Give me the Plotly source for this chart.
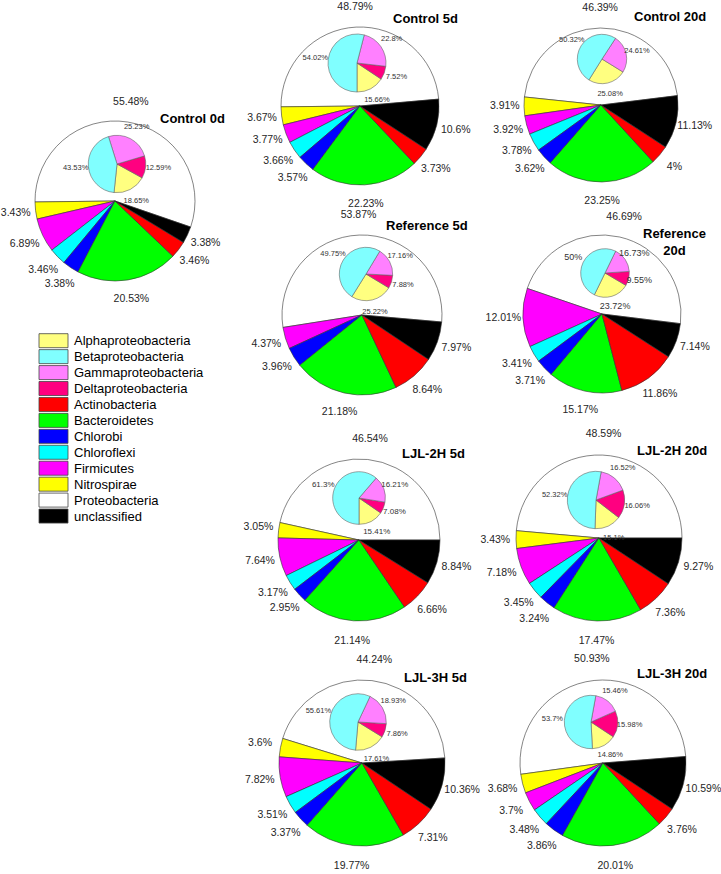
import plotly.graph_objects as go

# ---------------- data ----------------
samples = ["Control 0d", "Control 5d", "Control 20d", "Reference 5d", "Reference 20d",
           "LJL-2H 5d", "LJL-2H 20d", "LJL-3H 5d", "LJL-3H 20d"]
titles = ["Control 0d", "Control 5d", "Control 20d", "Reference 5d", "Reference<br>20d",
          "LJL-2H 5d", "LJL-2H 20d", "LJL-3H 5d", "LJL-3H 20d"]

outer_cats = ["Proteobacteria", "Nitrospirae", "Firmicutes", "Chloroflexi", "Chlorobi",
              "Bacteroidetes", "Actinobacteria", "unclassified"]
proteobacteria = [55.48, 48.79, 46.39, 53.87, 46.69, 46.54, 48.59, 44.24, 50.93]
nitrospirae    = [3.43, 3.67, 3.91, 0, 0, 3.05, 3.43, 3.6, 3.68]
firmicutes     = [6.89, 3.77, 3.92, 4.37, 12.01, 7.64, 7.18, 7.82, 3.7]
chloroflexi    = [3.46, 3.66, 3.78, 0, 3.41, 3.17, 3.45, 3.51, 3.48]
chlorobi       = [3.38, 3.57, 3.62, 3.96, 3.71, 2.95, 3.24, 3.37, 3.86]
bacteroidetes  = [20.53, 22.23, 23.25, 21.18, 15.17, 21.14, 17.47, 19.77, 20.01]
actinobacteria = [3.46, 3.73, 4, 8.64, 11.86, 6.66, 7.36, 7.31, 3.76]
unclassified   = [3.38, 10.6, 11.13, 7.97, 7.14, 8.84, 9.27, 10.36, 10.59]

inner_cats = ["Alphaproteobacteria", "Deltaproteobacteria", "Gammaproteobacteria", "Betaproteobacteria"]
alpha = [18.65, 15.66, 25.08, 25.22, 23.72, 15.41, 15.1, 17.61, 14.86]
delta = [12.59, 7.52, 0, 7.88, 9.55, 7.08, 16.06, 7.86, 15.98]
gamma = [25.23, 22.8, 24.61, 17.16, 16.73, 16.21, 16.52, 18.93, 15.46]
beta  = [43.53, 54.02, 50.32, 49.75, 50, 61.3, 52.32, 55.61, 53.7]

legend_cats = ["Alphaproteobacteria", "Betaproteobacteria", "Gammaproteobacteria",
               "Deltaproteobacteria", "Actinobacteria", "Bacteroidetes", "Chlorobi",
               "Chloroflexi", "Firmicutes", "Nitrospirae", "Proteobacteria", "unclassified"]

# ---------------- styles / layout ----------------
colors = {
    "Alphaproteobacteria": "#FFFF80", "Betaproteobacteria": "#80FFFF",
    "Gammaproteobacteria": "#FF80FF", "Deltaproteobacteria": "#FF0080",
    "Actinobacteria": "#FF0000", "Bacteroidetes": "#00FF00", "Chlorobi": "#0000FF",
    "Chloroflexi": "#00FFFF", "Firmicutes": "#FF00FF", "Nitrospirae": "#FFFF00",
    "Proteobacteria": "#FFFFFF", "unclassified": "#000000",
}
W, H = 721, 874
FONT = "Liberation Sans, Arial, sans-serif"

outer_geo = [(115, 201, 80), (360, 106, 79), (601, 105, 77), (362, 315, 80), (602, 314, 79),
             (359, 540, 81), (599, 538, 83), (362, 763, 83), (603, 763, 83)]
outer_rot = [-19, 5, 7, -5, -7, 0, 0, 3.5, 4.5]
inner_geo = [(117, 164, 28.7), (357, 63, 29), (602, 59, 24.7), (366, 274, 26.7), (605, 273, 24.3),
             (359, 498, 26.3), (596, 500, 28.7), (358, 722, 28.3), (591, 722, 26.7)]
inner_rot = [264, 270, 238, 238, 244, 270, 268, 265, 273]
inner_font = [7.5, 7.5, 7.5, 7.5, 9, 8, 7.5, 7.5, 7.5]
title_pos = [(192, 119), (426, 18), (670, 16), (427, 226), (674.5, 241.5),
             (434, 453), (672, 451), (436, 677), (672, 673)]

RO, LO = 1.28, 1.25   # outer radial range / label radius
RI, LI = 1.6, 1.45    # inset radial range / label radius


def domain(cx, cy, rpx):
    return dict(x=[(cx - rpx) / W, (cx + rpx) / W], y=[1 - (cy + rpx) / H, 1 - (cy - rpx) / H])


def wedges(vals):
    tot = sum(vals)
    mids, widths, acc = [], [], 0.0
    for v in vals:
        w = 360.0 * v / tot
        mids.append(acc + w / 2)
        widths.append(w)
        acc += w
    return mids, widths


def fmt(v):
    return f"{v:g}%"


fig = go.Figure()
layout_polars = {}
pidx = 0


def add_pie(cats, vals, geo, rot, rng, lab_r, fsize, line_col, txt_col):
    global pidx
    pidx += 1
    name = "polar" if pidx == 1 else f"polar{pidx}"
    mids, widths = wedges(vals)
    keep = [i for i, v in enumerate(vals) if v > 0]
    fig.add_trace(go.Barpolar(
        r=[1] * len(keep), theta=[mids[i] for i in keep], width=[widths[i] for i in keep],
        marker=dict(color=[colors[cats[i]] for i in keep], line=dict(color=line_col, width=0.6)),
        subplot=name, showlegend=False, hoverinfo="skip"))
    fig.add_trace(go.Scatterpolar(
        r=[lab_r] * len(keep), theta=[mids[i] for i in keep], mode="text",
        text=[fmt(vals[i]) for i in keep], textposition="middle center",
        textfont=dict(family=FONT, size=fsize, color=txt_col),
        cliponaxis=False, subplot=name, showlegend=False, hoverinfo="skip"))
    cx, cy, r = geo
    layout_polars[name] = dict(
        domain=domain(cx, cy, r * rng), bgcolor="rgba(0,0,0,0)", bargap=0,
        radialaxis=dict(visible=False, range=[0, rng]),
        angularaxis=dict(visible=False, direction="counterclockwise", rotation=rot),
    )


outer_series = [proteobacteria, nitrospirae, firmicutes, chloroflexi, chlorobi,
                bacteroidetes, actinobacteria, unclassified]
inner_series = [alpha, delta, gamma, beta]

for k in range(len(samples)):
    add_pie(outer_cats, [s[k] for s in outer_series], outer_geo[k], outer_rot[k], RO, LO, 10.5,
            "#333333", "#262626")
for k in range(len(samples)):
    add_pie(inner_cats, [s[k] for s in inner_series], inner_geo[k], inner_rot[k], RI, LI, inner_font[k],
            "#666666", "#333333")

annotations = []
for k, t in enumerate(titles):
    x, y = title_pos[k]
    annotations.append(dict(x=x / W, y=1 - y / H, xref="paper", yref="paper", text=f"<b>{t}</b>",
                            showarrow=False, xanchor="center", yanchor="middle", align="center",
                            font=dict(family=FONT, size=13, color="#000000")))

# legend (drawn as boxes + text)
shapes = []
y0, step = 340.7, 15.94
for i, c in enumerate(legend_cats):
    yc = y0 + step * i
    shapes.append(dict(type="rect", xref="paper", yref="paper",
                       x0=39 / W, x1=68 / W, y0=1 - (yc + 7) / H, y1=1 - (yc - 7) / H,
                       fillcolor=colors[c], line=dict(color="#444444", width=0.8)))
    annotations.append(dict(x=72 / W, y=1 - yc / H, xref="paper", yref="paper", text=c,
                            showarrow=False, xanchor="left", yanchor="middle",
                            font=dict(family=FONT, size=13, color="#000000")))

fig.update_layout(width=W, height=H, margin=dict(l=0, r=0, t=0, b=0),
                  paper_bgcolor="white", plot_bgcolor="white",
                  annotations=annotations, shapes=shapes, showlegend=False, **layout_polars)

fig.write_html("out.html", config={"displayModeBar": False},
               post_script="document.body.style.margin='0px';document.body.style.overflow='hidden';")
